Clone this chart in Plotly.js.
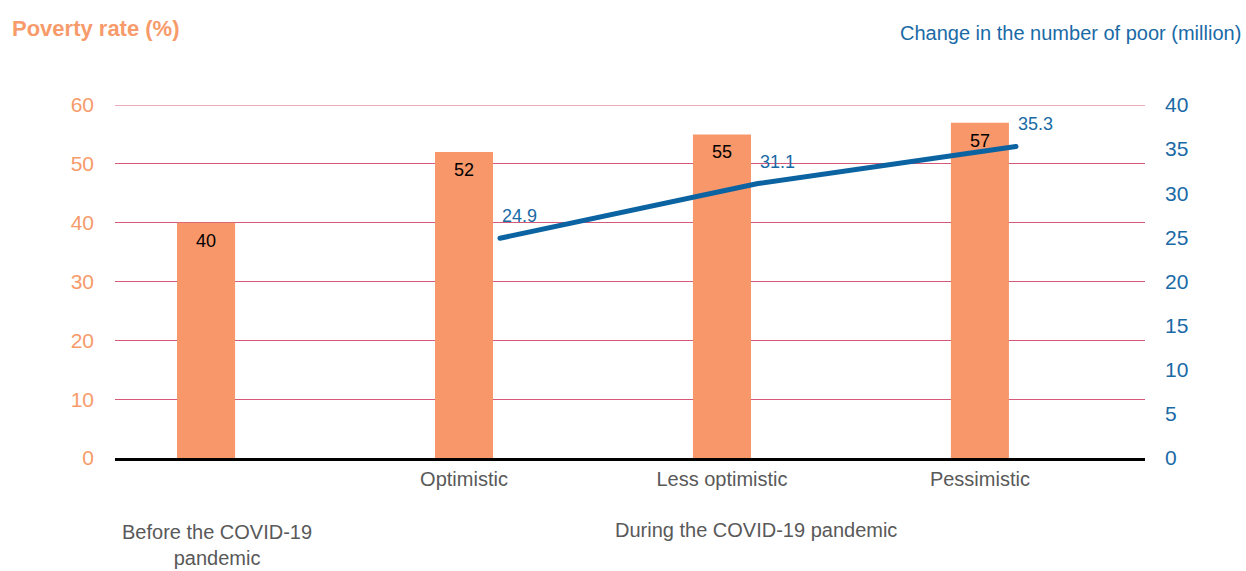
<!DOCTYPE html>
<html>
<head>
<meta charset="utf-8">
<script src="https://cdn.plot.ly/plotly-3.0.1.min.js"></script>
<style>html,body{margin:0;padding:0;background:#fff;}#chart{width:1246px;height:571px;}</style>
</head>
<body>
<div id="chart"></div>
<script>
const categories = ["before", "Optimistic", "Less optimistic", "Pessimistic"];
const tickLabels = ["", "Optimistic", "Less optimistic", "Pessimistic"];
const povertyRate = [40, 52, 55, 57];
const lineCategories = ["Optimistic", "Less optimistic", "Pessimistic"];
const changeInPoor = [24.9, 31.1, 35.3];
const groupLabels = ["Before the COVID-19<br>pandemic", "During the COVID-19 pandemic"];
const leftMax = 60;
const rightMax = 40;

const FONT = "Liberation Sans Narrow, Arial Narrow, Liberation Sans, Arial, sans-serif";
const ORANGE = "#f7976a";
const ORANGE_TXT = "#f79b6b";
const BLUE = "#0b63a1";
const BLUE_TXT = "#1a6aa6";
const GRID = "#d45a78";
const GRAY = "#595959";

const bars = {
  type: "bar",
  x: categories,
  y: povertyRate,
  xaxis: "x",
  yaxis: "y",
  width: 0.225,
  marker: {color: ORANGE},
  hoverinfo: "skip"
};

const line = {
  type: "scatter",
  mode: "lines",
  x: lineCategories,
  y: changeInPoor,
  xaxis: "x2",
  yaxis: "y2",
  line: {color: BLUE, width: 5},
  cliponaxis: false,
  hoverinfo: "skip"
};

const barLabels = categories.map((c, i) => ({
  text: String(povertyRate[i]),
  xref: "x", yref: "y", x: c, y: povertyRate[i],
  xanchor: "center", yanchor: "top", yshift: -6,
  showarrow: false,
  font: {family: FONT, size: 18, color: "#000"}
}));

const lineLabels = lineCategories.map((c, i) => ({
  text: changeInPoor[i].toFixed(1),
  xref: "x2", yref: "y2", x: c, y: changeInPoor[i],
  xanchor: "left", yanchor: "middle", xshift: 0, yshift: 22,
  showarrow: false,
  font: {family: FONT, size: 18, color: BLUE_TXT}
}));

const layout = {
  width: 1246,
  height: 571,
  margin: {l: 115, r: 101, t: 105, b: 113},
  paper_bgcolor: "#fff",
  plot_bgcolor: "#fff",
  showlegend: false,
  font: {family: FONT, color: GRAY},
  xaxis: {
    type: "category",
    categoryorder: "array",
    categoryarray: categories,
    tickvals: categories,
    ticktext: tickLabels,
    range: [-0.353, 3.64],
    showgrid: false,
    zeroline: false,
    showline: true,
    linecolor: "#000",
    linewidth: 2.5,
    ticks: "",
    ticklabelstandoff: 1,
    tickfont: {family: FONT, size: 20, color: GRAY}
  },
  xaxis2: {
    type: "category",
    overlaying: "x",
    categoryorder: "array",
    categoryarray: categories,
    range: [-0.492, 3.50],
    visible: false
  },
  yaxis: {
    range: [0, leftMax],
    dtick: 10,
    showgrid: true,
    gridcolor: GRID,
    gridwidth: 1,
    zeroline: false,
    showline: false,
    ticks: "",
    ticklabelstandoff: 20,
    tickfont: {family: FONT, size: 21, color: ORANGE_TXT}
  },
  yaxis2: {
    range: [0, rightMax],
    dtick: 5,
    overlaying: "y",
    side: "right",
    showgrid: false,
    zeroline: false,
    showline: false,
    ticks: "",
    ticklabelstandoff: 19,
    tickfont: {family: FONT, size: 21, color: BLUE_TXT}
  },
  shapes: [
    {type: "line", xref: "paper", yref: "y", x0: 0, x1: 1, y0: leftMax, y1: leftMax,
     line: {color: GRID, width: 1}, layer: "below"}
  ],
  annotations: [
    {text: "<b>Poverty rate (%)</b>", xref: "paper", yref: "paper", x: -0.102, y: 1.218,
     xanchor: "left", yanchor: "middle", showarrow: false,
     font: {family: FONT, size: 22, color: ORANGE_TXT}},
    {text: "Change in the number of poor (million)", xref: "paper", yref: "paper", x: 1.095, y: 1.204,
     xanchor: "right", yanchor: "middle", showarrow: false,
     font: {family: FONT, size: 20, color: BLUE_TXT}},
    {text: groupLabels[0], xref: "paper", yref: "paper", x: 0.099, y: -0.246,
     xanchor: "center", yanchor: "middle", showarrow: false,
     font: {family: FONT, size: 20, color: GRAY}},
    {text: groupLabels[1], xref: "paper", yref: "paper", x: 0.622, y: -0.204,
     xanchor: "center", yanchor: "middle", showarrow: false,
     font: {family: FONT, size: 20, color: GRAY}}
  ].concat(barLabels, lineLabels)
};

Plotly.newPlot("chart", [bars, line], layout, {staticPlot: true, displayModeBar: false}).then(gd => {
  gd.querySelectorAll(".scatterlayer .js-line").forEach(p => {
    p.style.strokeLinecap = "round";
    p.style.strokeLinejoin = "round";
  });
});
</script>
</body>
</html>
